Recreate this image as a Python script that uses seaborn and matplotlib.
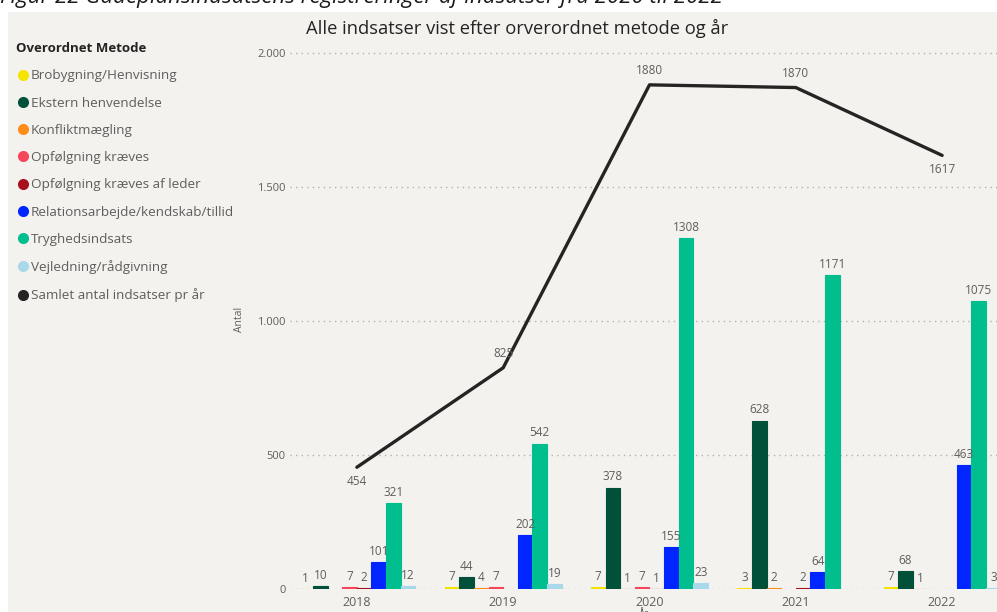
import matplotlib
matplotlib.use("Agg")
import matplotlib.pyplot as plt
from matplotlib.lines import Line2D
from matplotlib.patches import Rectangle
from matplotlib.ticker import FuncFormatter
import seaborn as sns
import pandas as pd
import numpy as np

# data
years = ["2018", "2019", "2020", "2021", "2022"]
methods = ["Brobygning/Henvisning", "Ekstern henvendelse", "Konfliktmægling",
           "Opfølgning kræves", "Opfølgning kræves af leder",
           "Relationsarbejde/kendskab/tillid", "Tryghedsindsats",
           "Vejledning/rådgivning"]
colors = ["#F5E400", "#01503A", "#FF8C1A", "#F6475A", "#A8101E",
          "#0025FF", "#00BE8E", "#A9D8EA"]
# None = no registration that year
counts = {
    "2018": [1, 10, None, 7, 2, 101, 321, 12],
    "2019": [7, 44, 4, 7, None, 202, 542, 19],
    "2020": [7, 378, 1, 7, 1, 155, 1308, 23],
    "2021": [3, 628, 2, None, 2, 64, 1171, None],
    "2022": [7, 68, 1, None, None, 463, 1075, 3],
}
totals = [454, 825, 1880, 1870, 1617]
total_label = "Samlet antal indsatser pr år"
total_color = "#252423"
total_label_pos = ["below", "above", "above", "above", "below"]

rows = []
for y in years:
    for m, v in zip(methods, counts[y]):
        if v is not None:
            rows.append({"År": y, "Metode": m, "Antal": v})
df = pd.DataFrame(rows)

sns.set_theme(style="white")
plt.rcParams["font.family"] = ["Open Sans", "DejaVu Sans"]

bg = "#F3F2EF"
txt = "#605E5C"

fig = plt.figure(figsize=(9.97, 6.12), dpi=100)
fig.patch.set_facecolor("white")
panel = Rectangle((8 / 997, 0), 1, (612 - 12) / 612, transform=fig.transFigure,
                  facecolor=bg, edgecolor="none", zorder=-10)
fig.patches.append(panel)

ax = fig.add_axes([290 / 997, 23 / 612, 1 - 290 / 997, (589 - 50) / 612])
ax.set_facecolor("none")

sns.barplot(data=df, x="År", y="Antal", hue="Metode", order=years,
            hue_order=methods, palette=colors, width=0.8, saturation=1,
            legend=False, ax=ax, zorder=3)
# thin outline in the bar colour so the tiny bars stay visible
for c, col in zip(ax.containers, colors):
    for p in c:
        p.set_edgecolor(col)
        p.set_linewidth(0.8)
    ax.bar_label(c, fmt="%d", padding=3, fontsize=8.5, color=txt)

sns.pointplot(x=years, y=totals, order=years, color=total_color, markers="",
              linewidth=2.4, ax=ax, zorder=4)
for i, (v, pos) in enumerate(zip(totals, total_label_pos)):
    ax.annotate(str(v), (i, v), xytext=(0, -10 if pos == "below" else 10),
                textcoords="offset points", ha="center", va="center",
                fontsize=8.5, color=txt, zorder=5)

ax.set_xlim(-0.457, 4.375)
ax.set_ylim(0, 2010)
ax.set_yticks([0, 500, 1000, 1500, 2000])
ax.yaxis.set_major_formatter(FuncFormatter(lambda v, p: f"{int(v):,}".replace(",", ".")))
ax.yaxis.grid(True, color="#B3B0AD", linestyle=(0, (1, 3)), linewidth=1)
ax.set_axisbelow(True)
for s in ax.spines.values():
    s.set_visible(False)
ax.tick_params(axis="both", length=0, colors=txt)
ax.tick_params(axis="y", labelsize=8, pad=3)
ax.tick_params(axis="x", labelsize=9, pad=5)
ax.set_ylabel("Antal", fontsize=7.5, color=txt, labelpad=9)
ax.set_xlabel("År", fontsize=7, color=txt, labelpad=0)

fig.text(517 / 997, 1 - 28 / 612, "Alle indsatser vist efter orverordnet metode og år",
         ha="center", va="center", fontsize=13.2, color="#252423")
fig.text(0, 1 + 3 / 612, "Figur 22 Gadeplansindsatsens registreringer af indsatser fra 2020 til 2022",
         ha="left", va="center", fontsize=16, style="italic", color="#1a1a1a")

handles = [Line2D([], [], marker="o", linestyle="", markersize=8, color=c,
                  markeredgewidth=0) for c in colors]
handles.append(Line2D([], [], marker="o", linestyle="", markersize=8, color=total_color,
                      markeredgewidth=0))
leg = fig.legend(handles, methods + [total_label], title="Overordnet Metode",
                 loc="upper left", bbox_to_anchor=(16 / 997, 1 - 42 / 612),
                 frameon=False, fontsize=9.7, title_fontsize=9.5, alignment="left",
                 handletextpad=0.1, handlelength=1.0, labelspacing=1.06,
                 borderaxespad=0, borderpad=0)
leg.get_title().set_fontweight("bold")
leg.get_title().set_color("#252423")
for t in leg.get_texts():
    t.set_color(txt)

fig.savefig("out.png", dpi=100, facecolor=fig.get_facecolor())
